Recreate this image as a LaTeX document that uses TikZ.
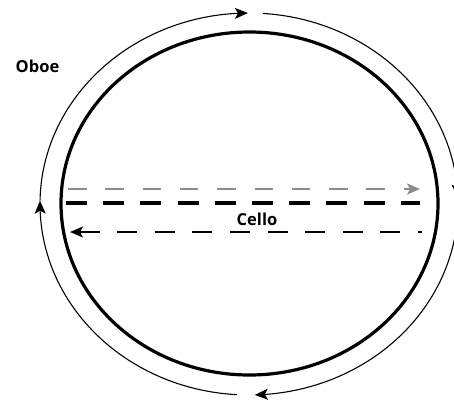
\documentclass[tikz,border=0pt]{standalone}
\usepackage{fontspec}
\setsansfont{Open Sans}
\usetikzlibrary{arrows.meta,bending}
\begin{document}
\begin{tikzpicture}[x=1pt,y=-1pt,
  outer/.style={line width=1.1pt,black},
  headtip/.style={-{Stealth[length=13pt,width=11pt,inset=3pt]}},
  inner/.style={line width=3.2pt,black},
  label/.style={font=\sffamily\bfseries\fontsize{16.5}{19}\selectfont,inner sep=0pt},
  grayflow/.style={line width=1.8pt,color=black!45,dash pattern=on 18.5pt off 18.8pt},
  blackflow/.style={line width=3.4pt,black,dash pattern=on 21pt off 16.2pt},
  thinflow/.style={line width=1.2pt,black,dash pattern=on 20pt off 17.6pt}]
\useasboundingbox (0,0) rectangle (454,402);
\clip (0,0) rectangle (454,402);
% centres
\coordinate (oc) at (249,204);
\coordinate (ic) at (249.5,203.5);
% inner thick ellipse
\draw[inner] (ic) ellipse [x radius=188.5, y radius=171.5];
% outer circulation arcs
\draw[outer,headtip] (oc) ++(93.3:209 and 191) arc[start angle=93.3, end angle=181, x radius=209, y radius=191] coordinate (l1);
\draw[outer,headtip] (l1) arc[start angle=181, end angle=269.7, x radius=209, y radius=191] coordinate (t1);
\draw[outer,headtip] (oc) ++(-86.2:209 and 191) coordinate (t2) arc[start angle=-86.2, end angle=-2, x radius=209, y radius=191] coordinate (r1);
\draw[outer,headtip] (r1) arc[start angle=-2, end angle=88.4, x radius=209, y radius=191] coordinate (b1);
% dashed flows
\coordinate (g1) at (68,189);
\coordinate (g2) at (420,189);
\coordinate (k1) at (66,203);
\coordinate (k2) at (420,203);
\coordinate (h1) at (70,232);
\coordinate (h2) at (422,232);
\draw[grayflow,-{Stealth[length=13pt,width=11pt,inset=3pt]}] (g1) -- (g2);
\draw[blackflow] (k1) -- (k2);
\draw[thinflow,{Stealth[length=13pt,width=11pt,inset=3pt]}-] (h1) -- (h2);
% labels
\node[label] (cello) at (257,219) {Cello};
\node[label] (oboe) at (37.5,66) {Oboe};
\end{tikzpicture}
\end{document}
